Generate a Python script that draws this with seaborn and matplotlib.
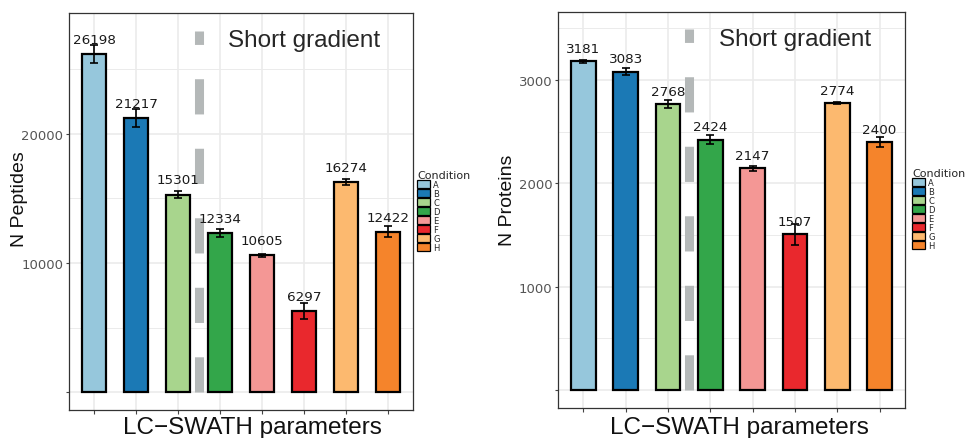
import matplotlib
matplotlib.use("Agg")
import matplotlib.pyplot as plt
import seaborn as sns
import pandas as pd
import numpy as np
from matplotlib.patches import Patch

# ---------------- data ----------------
conditions = ["A", "B", "C", "D", "E", "F", "G", "H"]
peptides = [26198, 21217, 15301, 12334, 10605, 6297, 16274, 12422]
peptides_sd = [680, 720, 300, 290, 120, 610, 200, 430]
proteins = [3181, 3083, 2768, 2424, 2147, 1507, 2774, 2400]
proteins_sd = [16, 32, 40, 44, 26, 102, 10, 48]
colors = ["#96c7dc", "#1b79b5", "#a8d58d", "#33a64a",
          "#f49795", "#e9282d", "#fcb96f", "#f5842b"]

pep_ticks = [0, 10000, 20000]
pep_ticklabels = ["", "10000", "20000"]
pep_minor = [5000, 15000, 25000]
prot_ticks = [0, 1000, 2000, 3000]
prot_ticklabels = ["", "1000", "2000", "3000"]
prot_minor = [500, 1500, 2500, 3500]

annotation_text = "Short gradient"
x_title = "LC\u2212SWATH parameters"
legend_title = "Condition"
divider_x = 2.5
pep_divider_top = 27990
prot_divider_top = 3495

# ---------------- style ----------------
sns.set_theme(style="white")
plt.rcParams["font.family"] = ["DejaVu Sans"]

fig = plt.figure(figsize=(9.68, 4.39), dpi=100)
ax1 = fig.add_axes([69 / 968, (439 - 411) / 439, 344 / 968, 397 / 439])
ax2 = fig.add_axes([558 / 968, (439 - 409) / 439, 347 / 968, 396.3 / 439])


def draw_panel(ax, values, sds, ylabel, ylim, ticks, ticklabels, minor,
               label_off, text_y, divider_top, ylab_coords, xlab_coords,
               leg_anchor):
    df = pd.DataFrame({"Condition": conditions, "Value": values})
    sns.barplot(data=df, x="Condition", y="Value", hue="Condition",
                palette=colors, width=0.58, edgecolor="black", linewidth=1.6,
                saturation=1, errorbar=None, legend=False, ax=ax, zorder=2)
    pos = np.arange(len(conditions))
    ax.errorbar(pos, values, yerr=sds, fmt="none", ecolor="black",
                elinewidth=1.2, capsize=3, capthick=1.2, zorder=4)
    for i, v in enumerate(values):
        ax.annotate(f"{v}", (i, v), xytext=(0, label_off),
                    textcoords="offset points", ha="center", va="baseline",
                    fontsize=9.7, color="#1a1a1a", zorder=6)
    # dashed divider
    ax.vlines(divider_x, 0, divider_top, color="#b4b8b8", lw=6.5,
              linestyles=[(0, (3.9, 3.8))], capstyle="butt", zorder=1.5)
    ax.text(5.0, text_y, annotation_text, ha="center", va="baseline",
            fontsize=17.5, family="Liberation Sans", color="#262626", zorder=6)

    ax.set_xlim(-0.6, 7.6)
    ax.set_ylim(*ylim)
    ax.set_yticks(ticks, ticklabels)
    ax.set_yticks(minor, minor=True)
    ax.set_axisbelow(True)
    ax.grid(which="major", color="#ebebeb", lw=1.2, zorder=0)
    ax.grid(which="minor", axis="y", color="#ebebeb", lw=0.7, zorder=0)
    ax.tick_params(axis="y", which="major", left=True, length=2, width=0.8,
                   color="#444444", pad=2, labelsize=9.5, labelcolor="#555555")
    ax.tick_params(axis="y", which="minor", left=False, length=0)
    ax.tick_params(axis="x", which="major", bottom=True, length=3, width=0.8,
                   color="#444444", labelbottom=False)
    for s in ax.spines.values():
        s.set_visible(True)
        s.set_color("#333333")
        s.set_linewidth(0.9)

    ax.set_ylabel(ylabel, fontsize=14, family="Liberation Sans", color="#111111")
    ax.yaxis.set_label_coords(*ylab_coords)
    ax.set_xlabel(x_title, fontsize=17.5, family="Liberation Sans",
                  color="#111111")
    ax.xaxis.set_label_coords(*xlab_coords)

    handles = [Patch(facecolor=c, edgecolor="black", linewidth=0.9, label=l)
               for c, l in zip(colors, conditions)]
    ax.legend(handles=handles, title=legend_title, loc="upper left",
              bbox_to_anchor=leg_anchor, frameon=False, fontsize=6,
              title_fontsize=8, handlelength=1.55, handleheight=1.1,
              labelspacing=0, borderpad=0, borderaxespad=0,
              handletextpad=0.4, alignment="left")


draw_panel(ax1, peptides, peptides_sd, "N Peptides", (-1370, 29357),
           pep_ticks, pep_ticklabels, pep_minor, 8.1, 26826, pep_divider_top,
           (-0.118, 0.533), (0.532, -0.015), (1.012, 0.605))
draw_panel(ax2, proteins, proteins_sd, "N Proteins", (-174, 3662),
           prot_ticks, prot_ticklabels, prot_minor, 6.6, 3340, prot_divider_top,
           (-0.121, 0.526), (0.524, -0.02), (1.02, 0.606))

fig.savefig("out.png", dpi=100)
